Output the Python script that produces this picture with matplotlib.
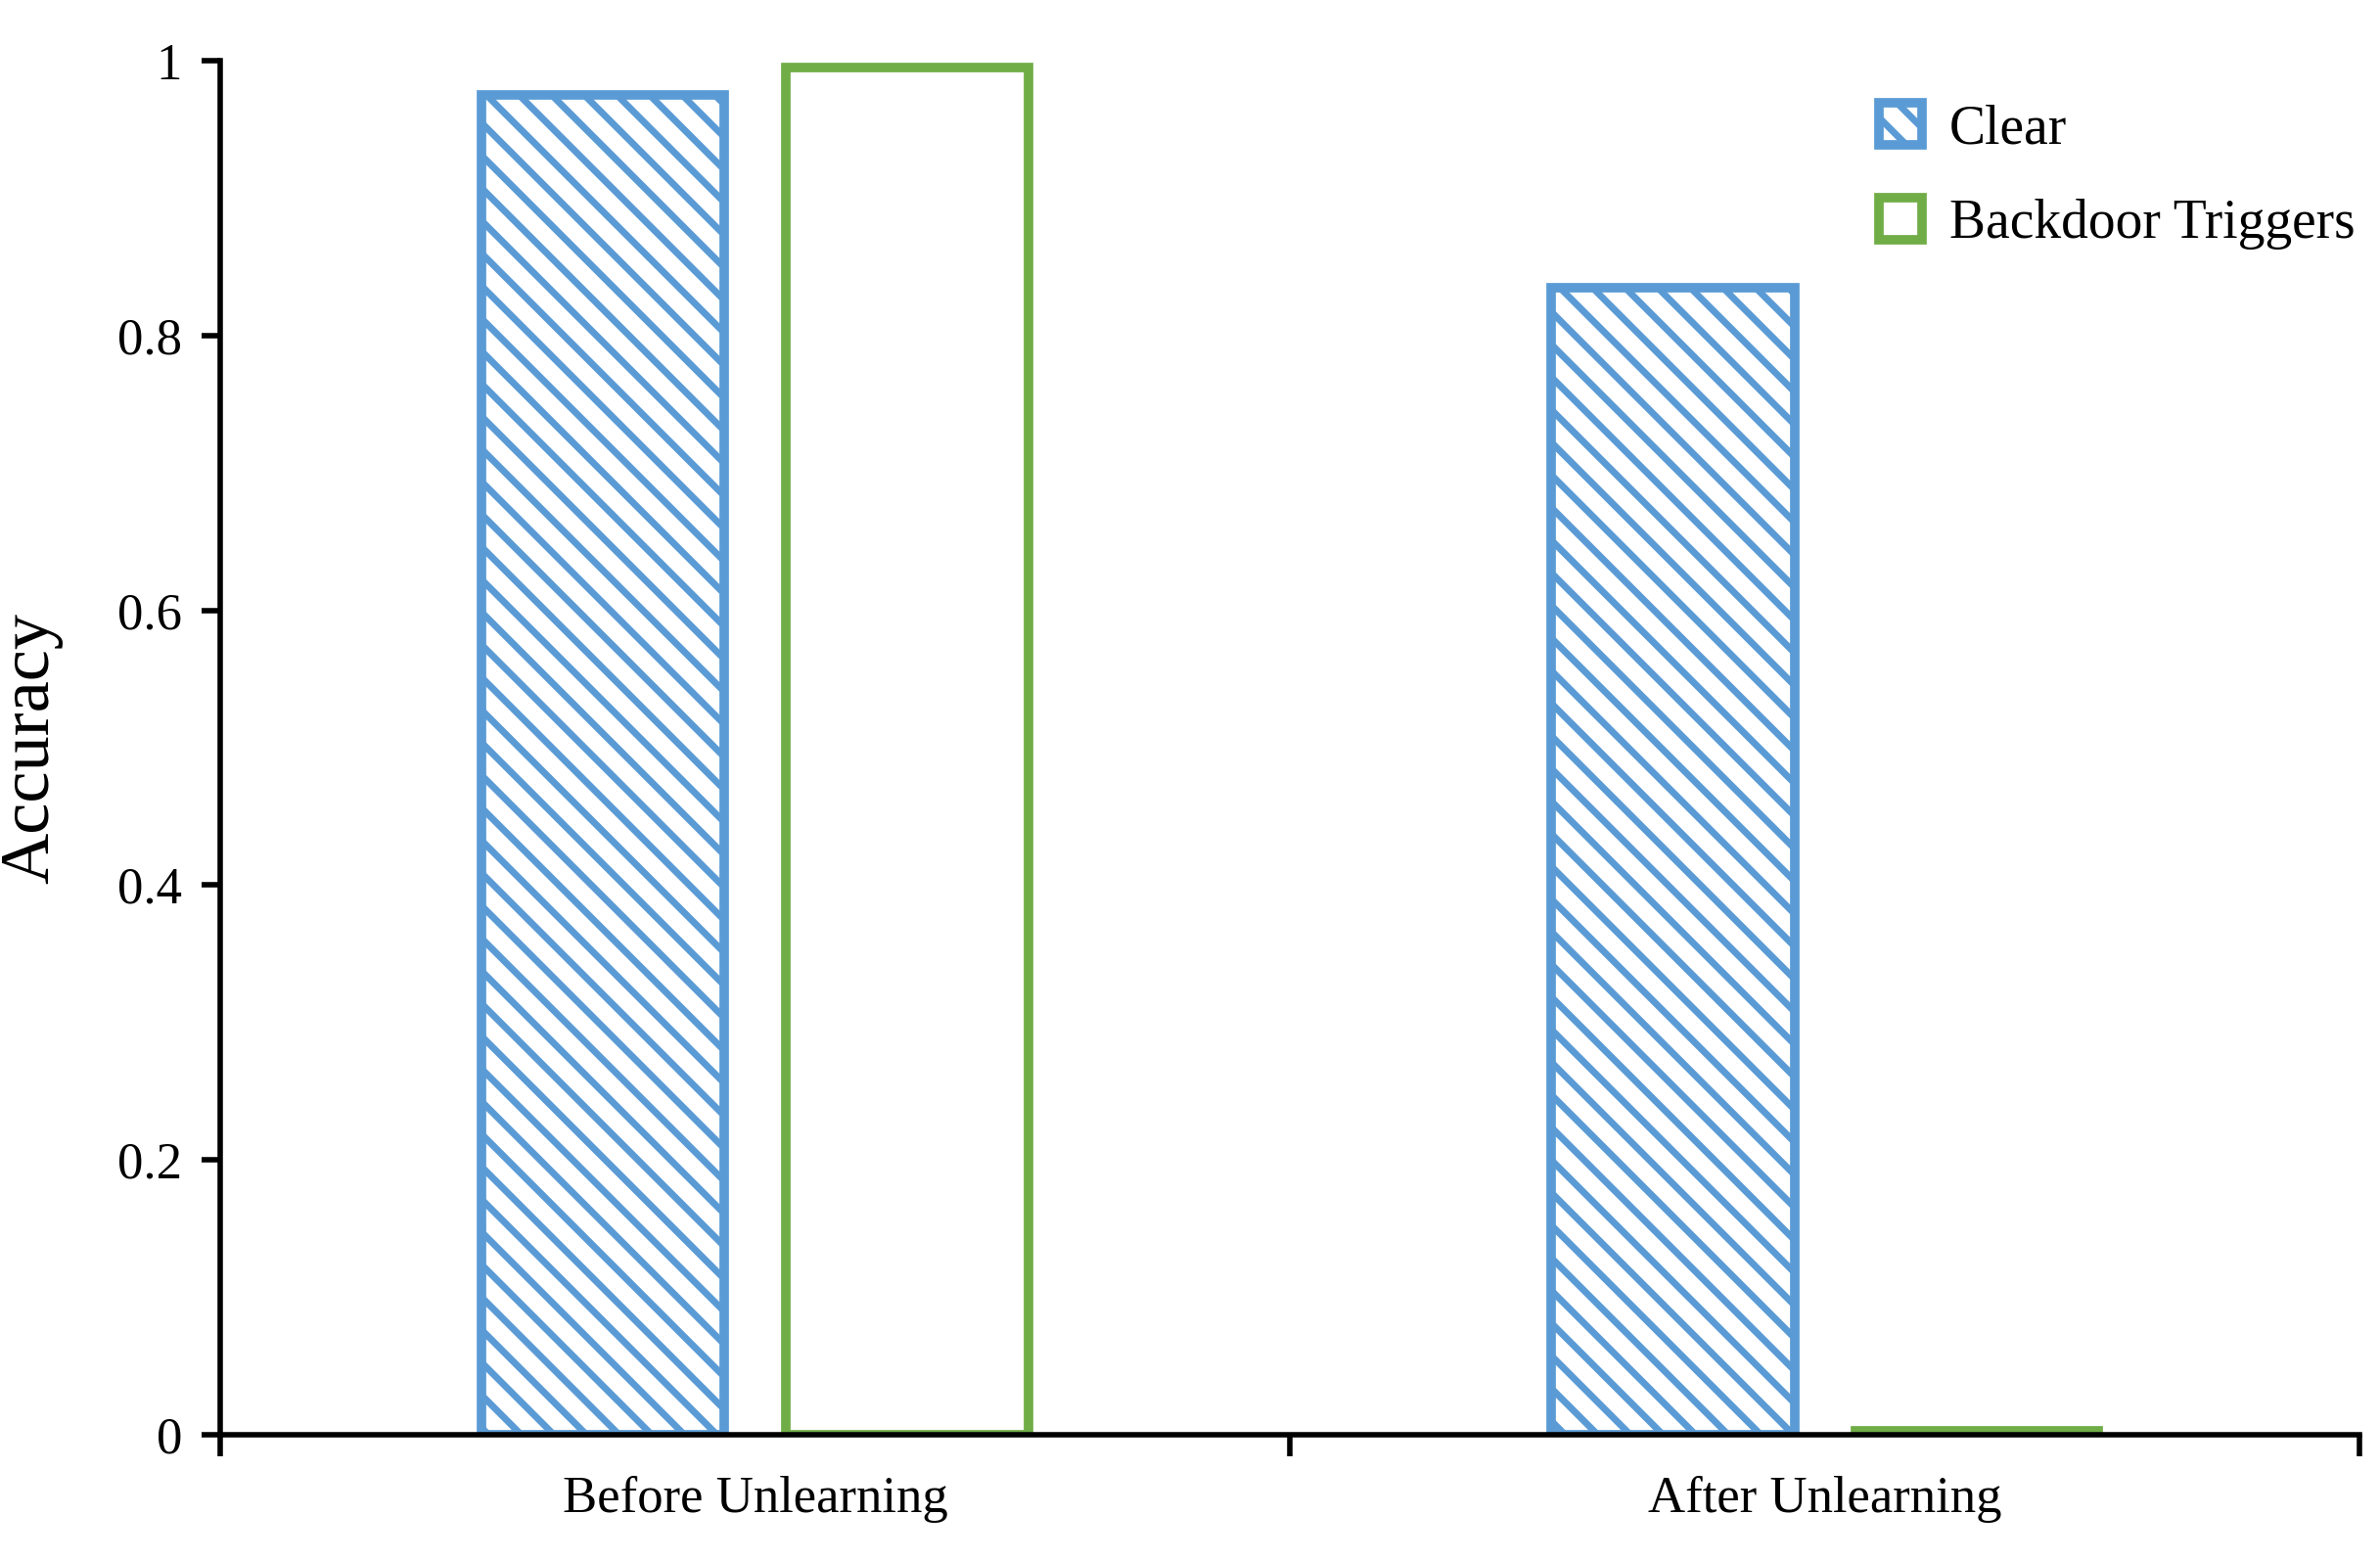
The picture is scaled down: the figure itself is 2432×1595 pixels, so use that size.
import matplotlib
matplotlib.use("Agg")
import matplotlib.pyplot as plt
import numpy as np

matplotlib.rcParams['hatch.linewidth'] = 5.0
matplotlib.rcParams['font.family'] = ['Liberation Serif', 'DejaVu Serif']

categories = ["Before Unlearning", "After Unlearning"]
clear_acc = [0.975, 0.835]
backdoor_acc = [0.995, 0.003]

blue = "#5B9BD5"
green = "#70AD47"

fig = plt.figure(figsize=(24.32, 15.95), dpi=100)
ax = fig.add_axes([0.0925, 0.081, 0.899, 0.88])

x = np.arange(len(categories))
w = 0.227
ax.bar(x - 0.142, clear_acc, w, facecolor="white", edgecolor=blue,
       hatch="\\", linewidth=7, label="Clear")
ax.bar(x + 0.142, backdoor_acc, w, facecolor="white", edgecolor=green,
       linewidth=7, label="Backdoor Triggers")

ax.set_xlim(-0.5, 1.5)
ax.set_ylim(0, 1)
ax.set_xticks([-0.5, 0.5, 1.5])
ax.set_xticklabels([])
ax.set_xticks(x, minor=True)
ax.set_xticklabels(categories, minor=True, fontsize=38)
ax.tick_params(axis="x", which="minor", length=0, pad=30)
ax.tick_params(axis="x", which="major", length=16, width=4, direction="out")
ax.set_yticks([0, 0.2, 0.4, 0.6, 0.8, 1])
ax.set_yticklabels(["0", "0.2", "0.4", "0.6", "0.8", "1"], fontsize=38)
ax.tick_params(axis="y", length=14, width=4, direction="out", pad=14)
ax.set_ylabel("Accuracy", fontsize=52, labelpad=40)

for s in ["top", "right"]:
    ax.spines[s].set_visible(False)
for s in ["left", "bottom"]:
    ax.spines[s].set_linewidth(4)

ax.legend(loc="upper left", bbox_to_anchor=(0.765, 0.985), frameon=False,
          fontsize=40, handlelength=0.8, handleheight=0.8, handletextpad=0.5,
          labelspacing=0.8, borderaxespad=0)

fig.savefig("out.png", dpi=100)
